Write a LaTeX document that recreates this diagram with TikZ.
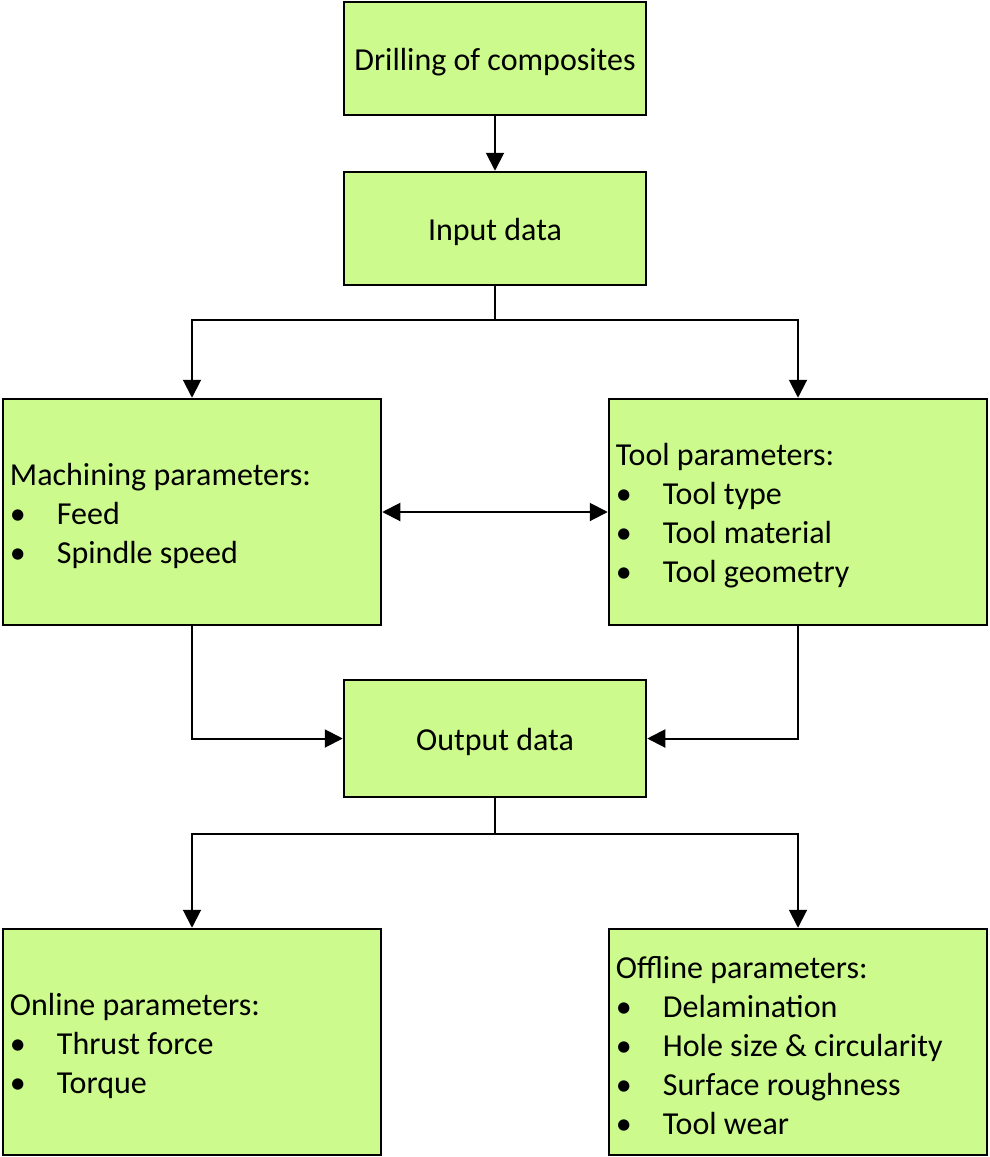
\documentclass[tikz,border=0pt]{standalone}
\usepackage{fontspec}
\setmainfont{Carlito}
\usetikzlibrary{arrows.meta}
\definecolor{boxgreen}{RGB}{204,250,140}
\newcommand{\bul}{\makebox[47pt][l]{\textbullet}}
\tikzset{
  box/.style={draw=black, fill=boxgreen, line width=2.5pt, rectangle, inner sep=0pt},
  smallbox/.style={box, minimum width=302pt, minimum height=113pt},
  bigbox/.style={box, minimum width=378pt, minimum height=226pt},
  txt/.style={inner sep=0pt, font=\fontsize{32}{39}\selectfont, yshift=-3.5pt},
  listtxt/.style={txt, align=left, anchor=west, xshift=8pt},
  conn/.style={line width=2pt, -{Triangle[length=18pt,width=18pt]}},
  plain/.style={line width=2pt},
}
\begin{document}
\begin{tikzpicture}[x=1pt,y=-1pt]
\useasboundingbox (0,0) rectangle (989,1157);
\node[smallbox] (drill) at (495,58.5) {};
\node[smallbox] (input) at (495,228.5) {};
\node[bigbox] (mach) at (192,512) {};
\node[bigbox] (tool) at (798,512) {};
\node[smallbox, minimum height=117pt] (output) at (495,738.5) {};
\node[bigbox] (online) at (192,1042) {};
\node[bigbox] (offline) at (798,1042) {};

\node[txt] (drillt) at (drill.center) {Drilling of composites};
\node[txt] (inputt) at (input.center) {Input data};
\node[txt] (outputt) at (output.center) {Output data};
\node[listtxt] (macht) at (mach.west) {Machining parameters:\\ \bul Feed\\ \bul Spindle speed};
\node[listtxt] (toolt) at (tool.west) {Tool parameters:\\ \bul Tool type\\ \bul Tool material\\ \bul Tool geometry};
\node[listtxt] (onlinet) at (online.west) {Online parameters:\\ \bul Thrust force\\ \bul Torque};
\node[listtxt] (offlinet) at (offline.west) {Offline parameters:\\ \bul Delamination\\ \bul Hole size \& circularity\\ \bul Surface roughness\\ \bul Tool wear};

\coordinate (s1) at (495,320);
\coordinate (s2) at (495,834);
\draw[conn] (drill.south) -- (input.north);
\draw[plain] (input.south) -- (s1);
\draw[conn] (s1) -| (mach.north);
\draw[conn] (s1) -| (tool.north);
\draw[line width=2pt, {Triangle[length=18pt,width=18pt]}-{Triangle[length=18pt,width=18pt]}] (mach.east) -- (tool.west);
\draw[conn] (mach.south) |- (output.west);
\draw[conn] (tool.south) |- (output.east);
\draw[plain] (output.south) -- (s2);
\draw[conn] (s2) -| (online.north);
\draw[conn] (s2) -| (offline.north);
\end{tikzpicture}
\end{document}
